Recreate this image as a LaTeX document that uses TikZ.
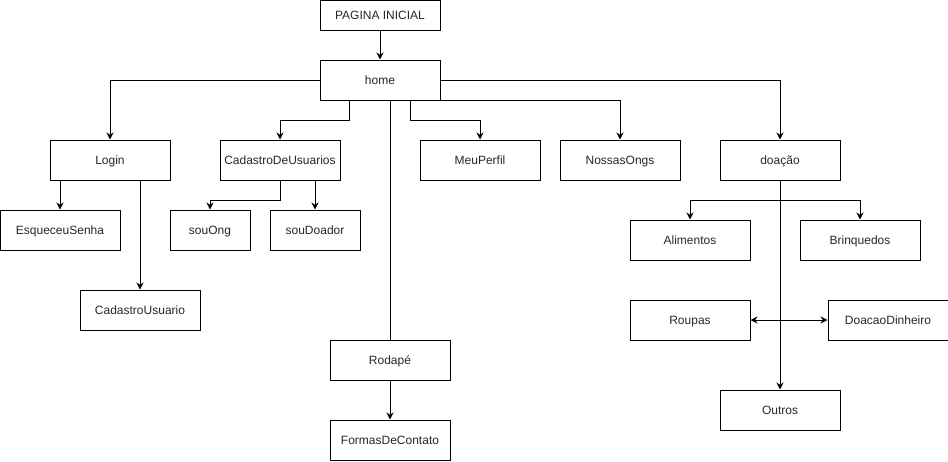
\documentclass[tikz,border=0pt]{standalone}
\usepackage{fontspec}
\setmainfont{Liberation Sans}
\usetikzlibrary{arrows.meta,calc}
\begin{document}
\begin{tikzpicture}[x=1pt,y=-1pt,
 box/.style={draw,line width=1pt,minimum width=120pt,minimum height=40pt,inner sep=0pt,text height=9.8pt,text depth=1.2pt,font=\fontsize{12}{14}\selectfont,text=black!85},
 link/.style={line width=1pt},
 arr/.style={link,-{Stealth[length=7pt,width=7pt]}},
 darr/.style={link,{Stealth[length=7pt,width=7pt]}-{Stealth[length=7pt,width=7pt]}}]
\useasboundingbox (0,0) rectangle (948,461);
\node[box,minimum height=30pt] (pi) at (380,15) {PAGINA INICIAL};
\node[box] (home) at (380,80) {home};
\node[box] (login) at (110,160) {Login};
\node[box] (cadu) at (280,160) {CadastroDeUsuarios};
\node[box] (perfil) at (480,160) {MeuPerfil};
\node[box] (ongs) at (620,160) {NossasOngs};
\node[box] (doa) at (780,160) {doação};
\node[box] (esq) at (60,230) {EsqueceuSenha};
\node[box,minimum width=80pt] (ong) at (210,230) {souOng};
\node[box,minimum width=90pt] (doador) at (315,230) {souDoador};
\node[box] (cadusr) at (140,310) {CadastroUsuario};
\node[box] (ali) at (690,240) {Alimentos};
\node[box] (brin) at (860,240) {Brinquedos};
\node[box] (roup) at (690,320) {Roupas};
\node[box] (din) at (888,320) {DoacaoDinheiro};
\node[box] (out) at (780,410) {Outros};
\node[box] (rod) at (390,360) {Rodapé};
\node[box] (formas) at (390,440) {FormasDeContato};

\draw[arr] (pi) -- (home);
\draw[arr] (home.west) -| (login.north);
\draw[arr] ($(home.south west)+(30,0)$) -- ++(0,20) -| (cadu.north);
\draw[link] (rod.north |- home.south) -- (rod.north);
\draw[arr] ($(home.south)+(30,0)$) -- ++(0,20) -| (perfil.north);
\draw[arr] (home.south east) -| (ongs.north);
\draw[arr] (home.east) -| (doa.north);
\draw[arr] (esq.north |- login.south) -- (esq.north);
\draw[arr] (cadusr.north |- login.south) -- (cadusr.north);
\draw[arr] (cadu.south) -- ++(0,20) -| (ong.north);
\draw[arr] (doador.north |- cadu.south) -- (doador.north);
\draw[arr] (doa.south) -- ++(0,20) -| (ali.north);
\draw[arr] (doa.south) -- ++(0,20) -| (brin.north);
\draw[arr] (doa.south) -- (out.north);
\draw[darr] (roup.east) -- (din.west);
\draw[arr] (rod) -- (formas);
\end{tikzpicture}
\end{document}
